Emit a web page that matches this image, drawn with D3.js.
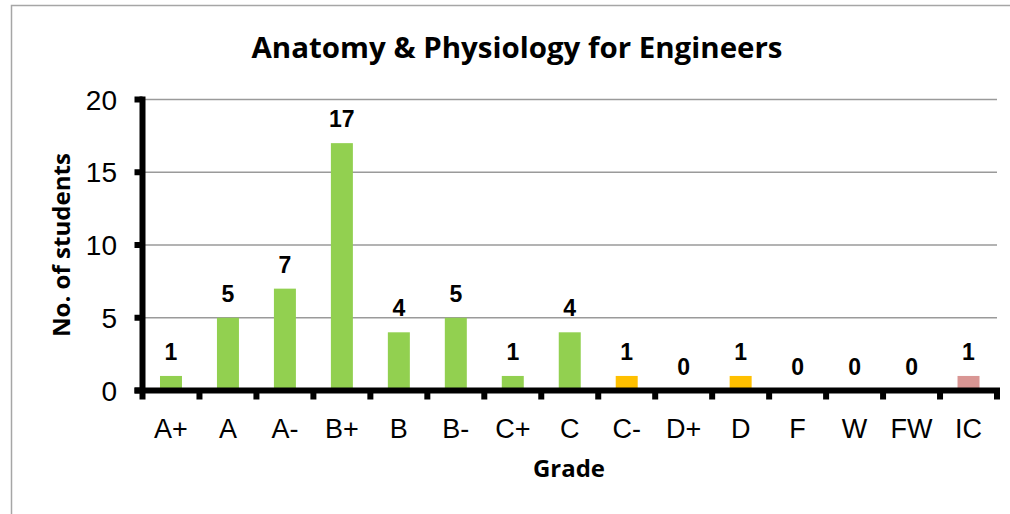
<!DOCTYPE html>
<html>
<head>
<meta charset="utf-8">
<script src="https://cdn.jsdelivr.net/npm/d3@7"></script>
<style>
  html, body { margin: 0; padding: 0; background: #fff; }
  svg { display: block; }
</style>
</head>
<body>
<svg id="chart" width="1010" height="514"></svg>
<script>
// grade distribution
const grades = ['A+', 'A', 'A-', 'B+', 'B', 'B-', 'C+', 'C', 'C-', 'D+', 'D', 'F', 'W', 'FW', 'IC'];
const counts = [1, 5, 7, 17, 4, 5, 1, 4, 1, 0, 1, 0, 0, 0, 1];
const barColors = ['#92d050', '#92d050', '#92d050', '#92d050', '#92d050', '#92d050', '#92d050', '#92d050',
  '#ffc000', '#ffc000', '#ffc000', '#ffc000', '#ffc000', '#ffc000', '#d99694'];
const yTicks = [0, 5, 10, 15, 20];

const svg = d3.select('#chart');
const margin = { left: 142.5, right: 13, top: 99.5, bottom: 123.5 };
const W = 1010, H = 514;

// chart border
svg.append('rect')
  .attr('x', 11.5).attr('y', 5.5)
  .attr('width', 1010).attr('height', 520)
  .attr('fill', 'none').attr('stroke', '#a6a6a6').attr('stroke-width', 1.5);

const x = d3.scaleBand()
  .domain(grades)
  .range([margin.left, W - margin.right])
  .paddingInner(0.614).paddingOuter(0.307);
const xb = d3.scaleBand().domain(grades).range([margin.left, W - margin.right]);
const y = d3.scaleLinear().domain([0, 20]).range([H - margin.bottom, margin.top]);

// gridlines
svg.append('g').selectAll('line').data(yTicks.filter(d => d > 0)).join('line')
  .attr('x1', margin.left).attr('x2', W - margin.right)
  .attr('y1', d => y(d)).attr('y2', d => y(d))
  .attr('stroke', '#9a9a9a').attr('stroke-width', 1.5);

// bars
svg.append('g').selectAll('rect').data(grades).join('rect')
  .attr('x', d => x(d))
  .attr('width', x.bandwidth())
  .attr('y', (d, i) => y(counts[i]))
  .attr('height', (d, i) => y(0) - y(counts[i]))
  .attr('fill', (d, i) => barColors[i]);

// value labels
svg.append('g').selectAll('text').data(grades).join('text')
  .attr('x', d => x(d) + x.bandwidth() / 2)
  .attr('y', (d, i) => y(counts[i]) - 16)
  .attr('text-anchor', 'middle')
  .attr('font-family', 'Arial, "Liberation Sans", sans-serif')
  .attr('font-weight', 'bold')
  .attr('font-size', 23)
  .attr('fill', '#000')
  .text((d, i) => counts[i]);

// y axis
const yAxis = svg.append('g');
yAxis.append('line')
  .attr('x1', margin.left).attr('x2', margin.left)
  .attr('y1', y(20) - 3).attr('y2', y(0) + 9)
  .attr('stroke', '#000').attr('stroke-width', 6);
yAxis.selectAll('line.tick').data(yTicks).join('line')
  .attr('class', 'tick')
  .attr('x1', margin.left - 8).attr('x2', margin.left)
  .attr('y1', d => y(d)).attr('y2', d => y(d))
  .attr('stroke', '#000').attr('stroke-width', 6);
yAxis.selectAll('text').data(yTicks).join('text')
  .attr('x', 117)
  .attr('y', d => y(d))
  .attr('dy', '0.36em')
  .attr('text-anchor', 'end')
  .attr('font-family', 'Arial, "Liberation Sans", sans-serif')
  .attr('font-size', 28)
  .text(d => d);

// x axis
const xAxis = svg.append('g');
xAxis.append('line')
  .attr('x1', margin.left - 8).attr('x2', W - margin.right + 3)
  .attr('y1', y(0)).attr('y2', y(0))
  .attr('stroke', '#000').attr('stroke-width', 6);
const edges = grades.map(g => xb(g)).concat([W - margin.right]);
xAxis.selectAll('line.tick').data(edges.slice(1)).join('line')
  .attr('class', 'tick')
  .attr('x1', d => d).attr('x2', d => d)
  .attr('y1', y(0)).attr('y2', y(0) + 9)
  .attr('stroke', '#000').attr('stroke-width', 6);
xAxis.selectAll('text').data(grades).join('text')
  .attr('x', d => xb(d) + xb.bandwidth() / 2)
  .attr('y', 438)
  .attr('text-anchor', 'middle')
  .attr('font-family', 'Arial, "Liberation Sans", sans-serif')
  .attr('font-size', 27)
  .text(d => d);

// titles
svg.append('text')
  .attr('x', 517).attr('y', 58)
  .attr('text-anchor', 'middle')
  .attr('font-family', '"Open Sans", sans-serif')
  .attr('font-weight', 'bold')
  .attr('font-size', 28)
  .attr('textLength', 531).attr('lengthAdjust', 'spacingAndGlyphs')
  .text('Anatomy & Physiology for Engineers');

svg.append('text')
  .attr('x', 569).attr('y', 477)
  .attr('text-anchor', 'middle')
  .attr('font-family', '"Open Sans", sans-serif')
  .attr('font-weight', 'bold')
  .attr('font-size', 24)
  .attr('textLength', 72).attr('lengthAdjust', 'spacingAndGlyphs')
  .text('Grade');

svg.append('text')
  .attr('transform', 'translate(70,245) rotate(-90)')
  .attr('text-anchor', 'middle')
  .attr('font-family', '"Open Sans", sans-serif')
  .attr('font-weight', 'bold')
  .attr('font-size', 24)
  .attr('textLength', 184).attr('lengthAdjust', 'spacingAndGlyphs')
  .text('No. of students');
</script>
</body>
</html>
